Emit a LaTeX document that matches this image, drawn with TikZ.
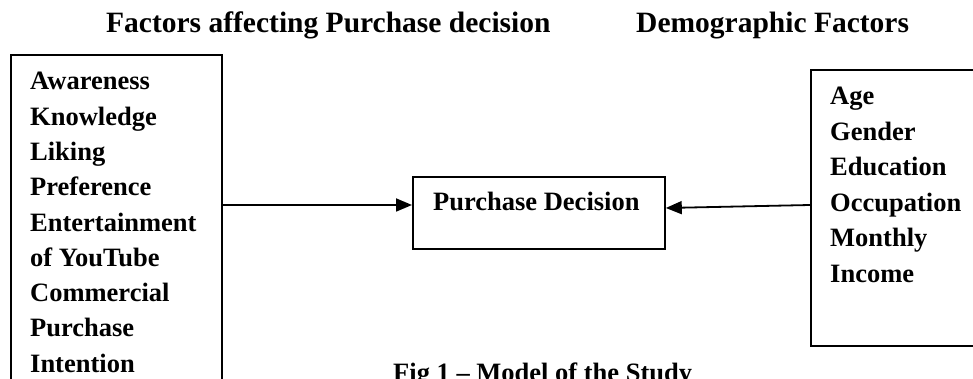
\documentclass[tikz,border=0pt]{standalone}
\usepackage{fontspec}
\setmainfont{Liberation Serif}
\usetikzlibrary{arrows.meta}
\begin{document}
\begin{tikzpicture}[x=1pt,y=-1pt,
  boxline/.style={draw=black, line width=1.8pt, fill=none, inner sep=0pt},
  txt/.style={font=\fontsize{26.5}{35}\selectfont\bfseries, inner sep=0pt, anchor=base west},
  ttl/.style={font=\fontsize{29.5}{35}\selectfont\bfseries, inner sep=0pt, anchor=base west},
  conn/.style={line width=1.8pt, -{Triangle[length=16pt,width=13pt]}}]
\useasboundingbox (0,0) rectangle (973,379);
\clip (0,0) rectangle (973,379);
\fill[white] (0,0) rectangle (973,379);
% titles
\node[ttl] (t1) at (106,33) {Factors affecting Purchase decision};
\node[ttl] (t2) at (636,33) {Demographic Factors};
% boxes
\node[boxline, anchor=north west, minimum width=211pt, minimum height=380pt] (lbox) at (10,54) {};
\node[boxline, anchor=north west, minimum width=200pt, minimum height=276pt] (rbox) at (810,69) {};
\node[boxline, anchor=north west, minimum width=252pt, minimum height=72pt] (pd) at (412,176) {};
\node[txt] (pdt) at (433,211) {Purchase Decision};
% left list
\foreach \t [count=\i] in {Awareness,Knowledge,Liking,Preference,Entertainment,of YouTube,Commercial,Purchase,Intention}
  \node[txt] (L\i) at (30,{90+35.25*(\i-1)}) {\t};
% right list
\foreach \t [count=\i] in {Age,Gender,Education,Occupation,Monthly,Income}
  \node[txt] (R\i) at (830,{105+35.4*(\i-1)}) {\t};
% connectors
\coordinate (la) at (lbox.east |- 0,205);
\coordinate (ra) at (rbox.west |- 0,205);
\coordinate (rb) at (pd.east |- 0,208);
\draw[conn] (la) -- (pd.west |- la);
\draw[conn] (ra) -- (rb);
% caption
\node[txt] (cap) at (393,381) {Fig 1 – Model of the Study};
\end{tikzpicture}
\end{document}
